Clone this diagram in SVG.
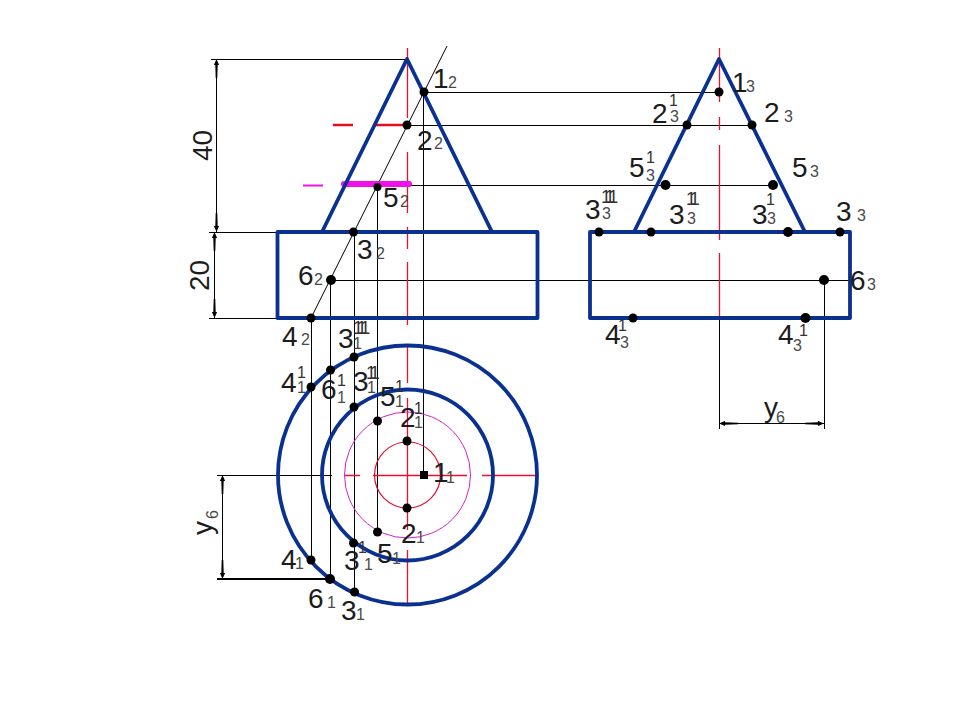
<svg xmlns="http://www.w3.org/2000/svg" width="960" height="720" viewBox="0 0 960 720">
<style>
text{font-family:"Liberation Sans",Arial,sans-serif}
.m{font-size:28px;fill:#1c1c1c}
.s{font-size:16px;fill:#4a4a4a}
.u{font-size:16px;fill:#333}
.t{font-size:18px;letter-spacing:-5px}
.b{fill:none;stroke:#0b3190;stroke-width:3.8;stroke-linejoin:round}
.k{fill:none;stroke:#000;stroke-width:1;shape-rendering:crispEdges}
.l{fill:none;stroke:#000;stroke-width:1}
.r{fill:none;stroke:#ee0f2c;stroke-width:1.300}
.d{fill:#000;stroke:none}
</style>
<defs>
<marker id="a" viewBox="0 0 20 6" refX="20" refY="3" markerWidth="20" markerHeight="6" markerUnits="userSpaceOnUse" orient="auto-start-reverse"><path d="M20 3L14 0.4L14 1.8L1 2.2V3.8L14 4.2L14 5.6Z" fill="#000"/></marker>
</defs>
<rect width="960" height="720" fill="#fff"/>
<g id="connectors">
<path class="l" d="M447 46L311 318"/>
<path class="k" d="M424 92.500H719M407 125.500H752M378 185.500H773M331 280.500H850"/>
<path class="k" d="M311.500 318V560M330.500 280V579M354.500 232V592M377.500 185V532M423.500 92V475"/>
<path class="k" d="M211 59.500H407M209 232.500H322M209 318.500H311"/>
<path class="k" d="M217 475.500H332"/>
<path d="M217 579H330" fill="none" stroke="#000" stroke-width="2"/>
<path class="k" d="M719.500 318V429M824.500 280V429"/>
<path class="k" d="M216.500 59V232" marker-start="url(#a)" marker-end="url(#a)"/>
<path class="k" d="M214.500 232V318" marker-start="url(#a)" marker-end="url(#a)"/>
<path class="k" d="M222.500 475V579" marker-start="url(#a)" marker-end="url(#a)"/>
<path class="k" d="M719 423.500H824" marker-start="url(#a)" marker-end="url(#a)"/>
</g>
<g id="axes">
<path class="r" d="M407.500 48V118M407.500 152V213M407.500 227V249M407.500 262V325M407.500 345V383M407.500 398V530M407.500 550V603"/>
<path class="r" d="M719.500 48V102M719.500 117V130M719.500 145V240M719.500 253V318"/>
<path class="r" d="M344 475.500H360M373 475.500H467M482 475.500H538"/>
</g>
<g id="sections">
<path d="M333 125H353M373 125H407" fill="none" stroke="#e5101c" stroke-width="2.500"/>
<path d="M303 185.500H323" fill="none" stroke="#f010e8" stroke-width="2"/>
<path d="M344 184H409" fill="none" stroke="#f010e8" stroke-width="6" stroke-linecap="round"/>
<circle cx="407.500" cy="475" r="63" fill="none" stroke="#d820c8" stroke-width="1"/>
<circle cx="407.500" cy="475" r="33" fill="none" stroke="#e0102c" stroke-width="1.200"/>
</g>
<g id="front-view">
<path class="b" d="M322 232L407 59L492 232"/>
<rect class="b" x="277.500" y="232" width="260" height="86"/>
</g>
<g id="side-view">
<path class="b" d="M634 232L719 59L805 232"/>
<rect class="b" x="590" y="232" width="260" height="86"/>
</g>
<g id="plan-view">
<circle class="b" cx="407.500" cy="475" r="129.500"/>
<circle class="b" cx="407.500" cy="475" r="85.500"/>
</g>
<g id="points" class="d">
<circle cx="424" cy="92" r="4.500"/><circle cx="407" cy="125" r="4.500"/><circle cx="377.500" cy="187" r="4"/><circle cx="353.500" cy="232" r="4.500"/><circle cx="331" cy="280" r="5"/><circle cx="311" cy="318" r="4.500"/>
<circle cx="311" cy="387" r="4.500"/><circle cx="330.500" cy="370" r="4.500"/><circle cx="354" cy="357" r="4.500"/><circle cx="354" cy="407" r="4.500"/><circle cx="377.500" cy="421" r="4.500"/><circle cx="407" cy="441" r="4.500"/><circle cx="407" cy="508" r="4.500"/><rect x="420" y="471" width="8" height="8"/><circle cx="377.500" cy="532" r="4.500"/><circle cx="353.500" cy="543" r="4.500"/><circle cx="311" cy="560" r="4.500"/><circle cx="330" cy="579" r="5"/><circle cx="354.500" cy="592" r="4.500"/>
<circle cx="719" cy="92" r="4.500"/><circle cx="687" cy="125" r="4.500"/><circle cx="752" cy="125" r="4.500"/><circle cx="665.500" cy="185" r="5"/><circle cx="773" cy="185" r="5"/><circle cx="599" cy="232" r="4.500"/><circle cx="651" cy="232" r="4.500"/><circle cx="788" cy="232" r="5"/><circle cx="840" cy="232" r="4.500"/><circle cx="824" cy="280" r="5"/><circle cx="633" cy="318" r="4.500"/><circle cx="805.500" cy="318" r="5"/>
</g>
<g id="dimension-labels">
<text class="m" transform="translate(212 161) rotate(-90)">40</text>
<text class="m" transform="translate(209 291) rotate(-90)">20</text>
<text class="m" transform="translate(212 535) rotate(-90)">y</text><text class="s" transform="translate(218 519) rotate(-90)">6</text>
<text class="m" x="764" y="417">y</text><text class="s" x="776" y="423">6</text>
</g>
<g id="front-labels">
<text class="m" x="433" y="88">1</text><text class="s" x="448" y="88">2</text>
<text class="m" x="417" y="150">2</text><text class="s" x="434" y="149">2</text>
<text class="m" x="383" y="207">5</text><text class="s" x="400" y="207">2</text>
<text class="m" x="357" y="259">3</text><text class="s" x="376" y="259">2</text>
<text class="m" x="298" y="285">6</text><text class="s" x="314" y="285">2</text>
<text class="m" x="282" y="346">4</text><text class="s" x="301" y="345">2</text>
</g>
<g id="plan-labels">
<text class="m" x="338" y="348">3</text><text class="s" x="353" y="349">1</text><text class="u t" x="353" y="334">111</text>
<text class="m" x="281" y="392">4</text><text class="s" x="297" y="393">1</text><text class="u" x="297" y="378">1</text>
<text class="m" x="321" y="399">6</text><text class="s" x="337" y="403">1</text><text class="u" x="337" y="386">1</text>
<text class="m" x="353" y="391">3</text><text class="s" x="367" y="393">1</text><text class="u t" x="366" y="379">11</text>
<text class="m" x="380" y="406">5</text><text class="s" x="395" y="407">1</text><text class="u" x="395" y="392">1</text>
<text class="m" x="400" y="427">2</text><text class="s" x="414" y="428">1</text><text class="u" x="414" y="414">1</text>
<text class="m" x="433" y="482">1</text><text class="s" x="446" y="483">1</text>
<text class="m" x="401" y="543">2</text><text class="s" x="416" y="543">1</text>
<text class="m" x="344" y="570">3</text><text class="u" x="358" y="553">1</text><text class="s" x="364" y="570">1</text>
<text class="m" x="377" y="563">5</text><text class="s" x="392" y="564">1</text>
<text class="m" x="281" y="569">4</text><text class="s" x="295" y="569">1</text>
<text class="m" x="308" y="608">6</text><text class="s" x="327" y="608">1</text>
<text class="m" x="341" y="620">3</text><text class="s" x="356" y="620">1</text>
</g>
<g id="side-labels">
<text class="m" x="732" y="92">1</text><text class="s" x="746" y="92">3</text>
<text class="m" x="652" y="123">2</text><text class="u" x="669" y="106">1</text><text class="s" x="670" y="122">3</text>
<text class="m" x="764" y="122">2</text><text class="s" x="784" y="122">3</text>
<text class="m" x="629" y="177">5</text><text class="u" x="646" y="163">1</text><text class="s" x="646" y="181">3</text>
<text class="m" x="792" y="177">5</text><text class="s" x="810" y="177">3</text>
<text class="m" x="585" y="219">3</text><text class="u t" x="601" y="203">111</text><text class="s" x="602" y="219">3</text>
<text class="m" x="669" y="224">3</text><text class="u t" x="686" y="205">11</text><text class="s" x="687" y="224">3</text>
<text class="m" x="752" y="224">3</text><text class="u" x="766" y="205">1</text><text class="s" x="767" y="224">3</text>
<text class="m" x="836" y="221">3</text><text class="s" x="857" y="221">3</text>
<text class="m" x="850" y="290">6</text><text class="s" x="867" y="290">3</text>
<text class="m" x="605" y="344">4</text><text class="u" x="618" y="331">1</text><text class="s" x="620" y="348">3</text>
<text class="m" x="778" y="344">4</text><text class="u" x="799" y="336">1</text><text class="s" x="793" y="351">3</text>
</g>
</svg>
